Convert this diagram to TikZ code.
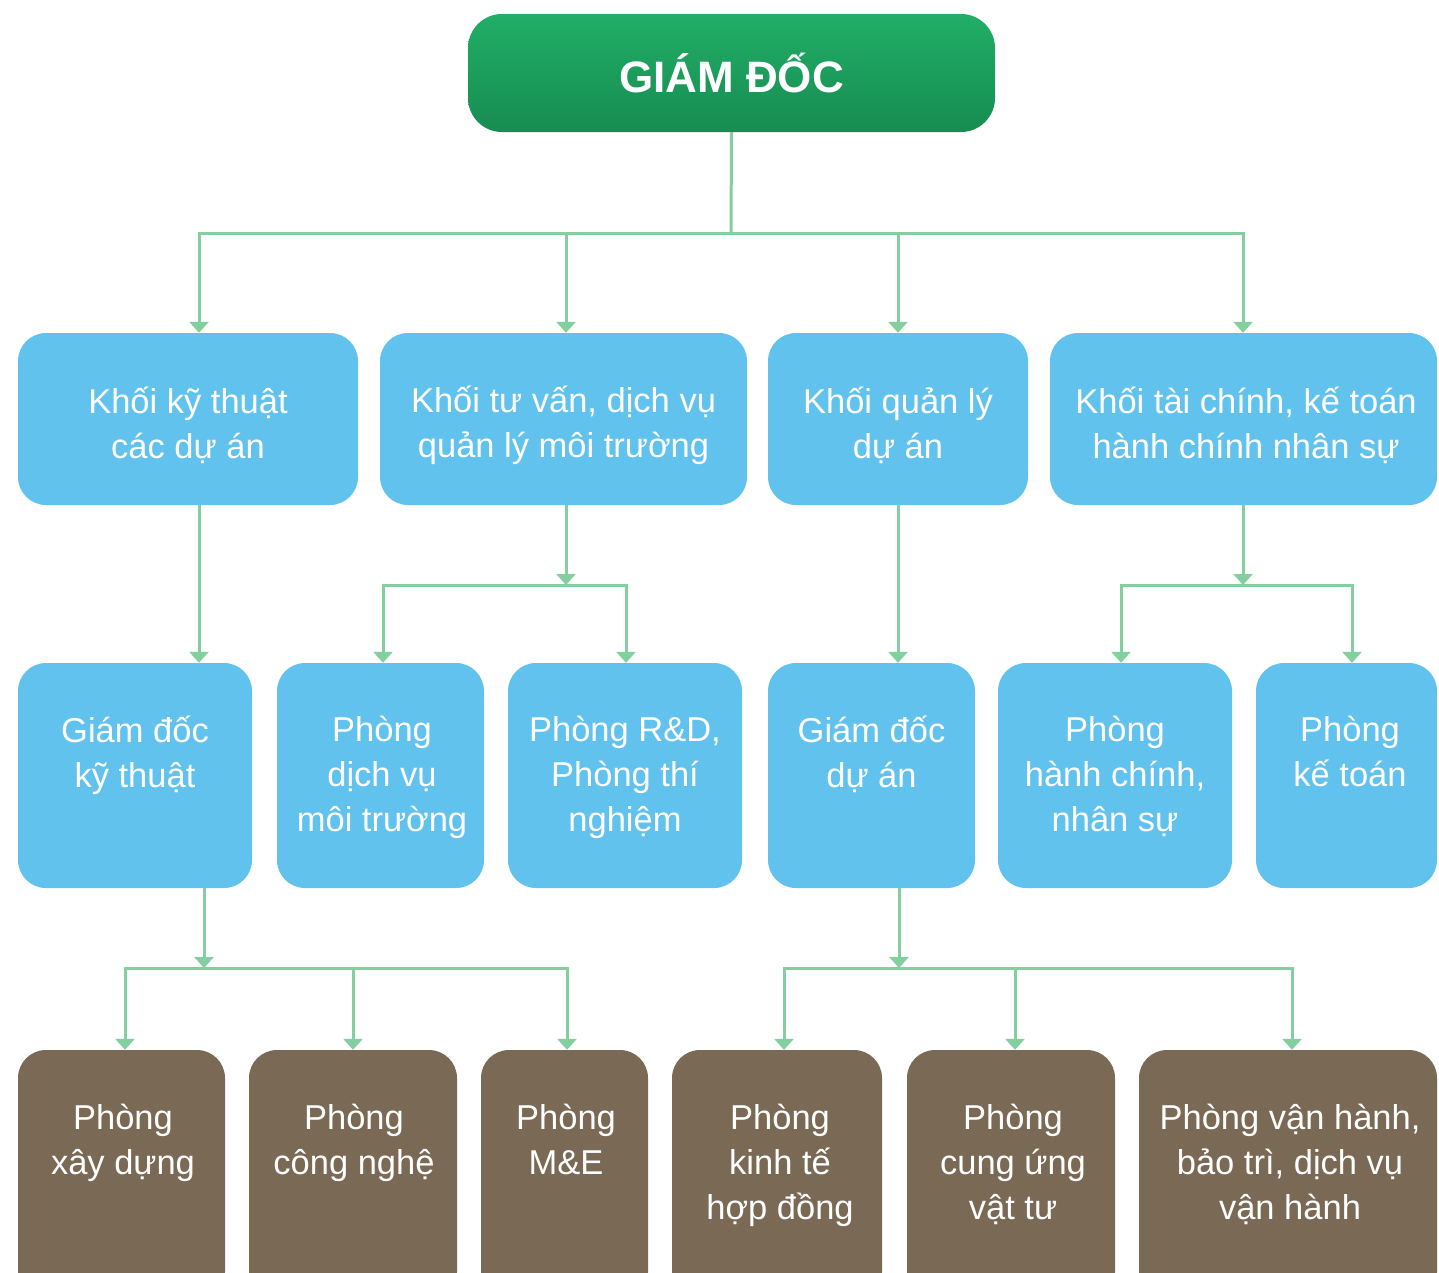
\documentclass[tikz,border=0pt]{standalone}
\usepackage{fontspec}
\setmainfont{Liberation Sans}
\usetikzlibrary{arrows.meta}
\definecolor{gtop}{HTML}{21AE65}
\definecolor{gbot}{HTML}{178C52}
\definecolor{bluef}{HTML}{61C2EE}
\definecolor{brownf}{HTML}{7A6954}
\definecolor{linec}{HTML}{84CF9F}
\tikzset{
  boxbase/.style={draw=none, inner sep=0pt, rounded corners=28pt},
  topbox/.style={boxbase, rounded corners=34pt, top color=gtop, bottom color=gbot, text=white, font=\fontsize{44}{50}\selectfont\bfseries},
  bluebox/.style={boxbase, fill=bluef},
  brownbox/.style={boxbase, fill=brownf},
  txt/.style={text=white, font=\fontsize{34.5}{45}\selectfont, align=center, inner sep=0pt},
  conn/.style={draw=linec, line width=3pt},
  arr/.style={conn, -{Triangle[width=19pt,length=11pt]}},
}
\begin{document}
\begin{tikzpicture}[x=1pt,y=-1pt]
\useasboundingbox (0,0) rectangle (1439,1272);
\clip (0,0) rectangle (1439,1272);
\fill[white] (0,0) rectangle (1439,1272);

% top
\node[topbox, minimum width=527pt, minimum height=118pt] (top) at (731.5,73) {GIÁM ĐỐC};

% row 1
\node[bluebox, minimum width=340pt, minimum height=172pt] (a1) at (188,419) {};
\node[bluebox, minimum width=367pt, minimum height=172pt] (a2) at (563.5,419) {};
\node[bluebox, minimum width=260pt, minimum height=172pt] (a3) at (898,419) {};
\node[bluebox, minimum width=387pt, minimum height=172pt] (a4) at (1243.5,419) {};
\node[txt] (ta1) at (188,425) {Khối kỹ thuật\\các dự án};
\node[txt] (ta2) at (563.5,425) {Khối tư vấn, dịch vụ\\quản lý môi trường};
\node[txt] (ta3) at (898,425) {Khối quản lý\\dự án};
\node[txt] (ta4) at (1246,425) {Khối tài chính, kế toán\\hành chính nhân sự};

% row 2
\node[bluebox, minimum width=234pt, minimum height=225pt] (b1) at (135,775.5) {};
\node[bluebox, minimum width=207pt, minimum height=225pt] (b2) at (380.5,775.5) {};
\node[bluebox, minimum width=234pt, minimum height=225pt] (b3) at (625,775.5) {};
\node[bluebox, minimum width=207pt, minimum height=225pt] (b4) at (871.5,775.5) {};
\node[bluebox, minimum width=234pt, minimum height=225pt] (b5) at (1115,775.5) {};
\node[bluebox, minimum width=181pt, minimum height=225pt] (b6) at (1346.5,775.5) {};
\node[txt, anchor=north] (tb1) at (135,716) {Giám đốc\\kỹ thuật};
\node[txt, anchor=north] (tb2) at (382,716) {Phòng\\dịch vụ\\môi trường};
\node[txt, anchor=north] (tb3) at (625,716) {Phòng R\&D,\\Phòng thí\\nghiệm};
\node[txt, anchor=north] (tb4) at (871.5,716) {Giám đốc\\dự án};
\node[txt, anchor=north] (tb5) at (1115,716) {Phòng\\hành chính,\\nhân sự};
\node[txt, anchor=north] (tb6) at (1350,716) {Phòng\\kế toán};

% row 3
\node[brownbox, minimum width=207pt, minimum height=250pt] (c1) at (121.5,1175) {};
\node[brownbox, minimum width=208pt, minimum height=250pt] (c2) at (353,1175) {};
\node[brownbox, minimum width=167pt, minimum height=250pt] (c3) at (564.5,1175) {};
\node[brownbox, minimum width=210pt, minimum height=250pt] (c4) at (777,1175) {};
\node[brownbox, minimum width=208pt, minimum height=250pt] (c5) at (1011,1175) {};
\node[brownbox, minimum width=298pt, minimum height=250pt] (c6) at (1288,1175) {};
\node[txt, anchor=north] (tc1) at (123,1104) {Phòng\\xây dựng};
\node[txt, anchor=north] (tc2) at (354,1104) {Phòng\\công nghệ};
\node[txt, anchor=north] (tc3) at (566,1104) {Phòng\\M\&E};
\node[txt, anchor=north] (tc4) at (780,1104) {Phòng\\kinh tế\\hợp đồng};
\node[txt, anchor=north] (tc5) at (1013,1104) {Phòng\\cung ứng\\vật tư};
\node[txt, anchor=north] (tc6) at (1290,1104) {Phòng vận hành,\\bảo trì, dịch vụ\\vận hành};

% connectors: top level
\coordinate (j0) at (731,233);
\draw[conn] (top.south) -- (j0);
\draw[arr] (j0) -| ([xshift=11pt]a1.north);
\draw[arr] (j0) -| ([xshift=2.5pt]a2.north);
\draw[arr] (j0) -| (a3.north);
\draw[arr] (j0) -| ([xshift=-0.5pt]a4.north);

% row1 -> row2
\draw[arr] ([xshift=11pt]a1.south) -- ([xshift=64pt]b1.north);
\coordinate (j2) at (566,585);
\draw[arr] ([xshift=2.5pt]a2.south) -- (j2);
\draw[arr] (j2) -| ([xshift=2.5pt]b2.north);
\draw[arr] (j2) -| ([xshift=1pt]b3.north);
\draw[arr] (a3.south) -- ([xshift=26.5pt]b4.north);
\coordinate (j4) at (1243,585);
\draw[arr] ([xshift=-0.5pt]a4.south) -- (j4);
\draw[arr] (j4) -| ([xshift=6pt]b5.north);
\draw[arr] (j4) -| ([xshift=5.5pt]b6.north);

% row2 -> row3
\coordinate (k1) at (204,968);
\draw[arr] ([xshift=69pt]b1.south) -- (k1);
\draw[arr] (k1) -| ([xshift=3.5pt]c1.north);
\draw[arr] (k1) -| (c2.north);
\draw[arr] (k1) -| ([xshift=2.5pt]c3.north);
\coordinate (k4) at (899,968);
\draw[arr] ([xshift=27.5pt]b4.south) -- (k4);
\draw[arr] (k4) -| ([xshift=7pt]c4.north);
\draw[arr] (k4) -| ([xshift=4pt]c5.north);
\draw[arr] (k4) -| ([xshift=4pt]c6.north);
\end{tikzpicture}
\end{document}
